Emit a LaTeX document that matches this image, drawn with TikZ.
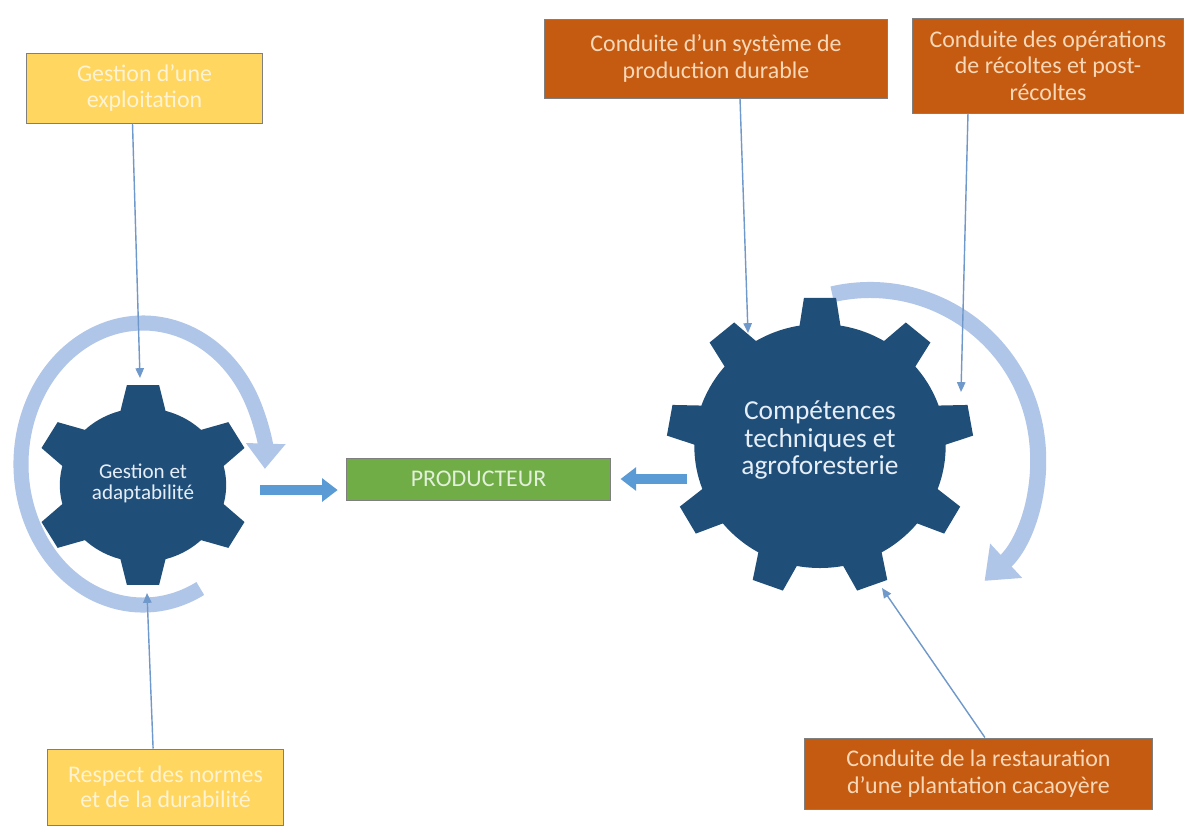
\documentclass[tikz,border=0pt]{standalone}
\usepackage{fontspec}
\setmainfont{Carlito}
\usetikzlibrary{arrows.meta}

\definecolor{gearblue}{HTML}{1F4E79}
\definecolor{gearlabel}{HTML}{E6EEF8}
\definecolor{ringblue}{HTML}{B0C6E8}
\definecolor{fatblue}{HTML}{5B9BD5}
\definecolor{linkblue}{HTML}{6F98CB}
\definecolor{boxyellow}{HTML}{FFD65F}
\definecolor{yellowtext}{HTML}{FFF3D2}
\definecolor{boxorange}{HTML}{C55A11}
\definecolor{orangetext}{HTML}{F9D8B8}
\definecolor{boxgreen}{HTML}{70AD47}
\definecolor{greentext}{HTML}{E2F0D9}
\definecolor{boxborder}{HTML}{7F7F7F}

\begin{document}
\begin{tikzpicture}[
        x=0.025cm, y=-0.025cm,
        box/.style={
            rectangle,
            draw=boxborder,
            line width=0.7pt,
            inner sep=0pt,
            align=center
        },
        yellowbox/.style={box, fill=boxyellow, text=yellowtext, font=\fontsize{17}{18}\selectfont},
        orangebox/.style={box, fill=boxorange, text=orangetext, font=\fontsize{17}{19}\selectfont},
        greenbox/.style={box, fill=boxgreen, text=greentext, font=\fontsize{17}{18}\selectfont},
        geartext/.style={text=gearlabel, align=center},
        ring/.style={draw=ringblue, line width=10.7pt},
        fat/.style={draw=fatblue, line width=7pt, -{Triangle[width=16pt,length=11pt]}},
        link/.style={draw=linkblue, line width=1pt, -{Triangle[width=6pt,length=7pt]}}
    ]

    \useasboundingbox[fill=white] (0,0) rectangle (1186,825);

    % Rotation arrows
    \begin{scope}[shift={(143,464)}]
        \draw[ring, -{Triangle[width=27pt,length=18pt]}] (62:122 and 141) arc[start angle=62, end angle=362, x radius=122, y radius=141];
    \end{scope}
    \begin{scope}[shift={(870,458)}]
        \draw[ring, line width=11.4pt, -{Triangle[width=32pt,length=21pt]}] (-103:168) arc[start angle=-103, end angle=47, radius=168];
    \end{scope}

    % Gears
    \begin{scope}[shift={(143,485)}, xscale=1.08]
        \fill[gearblue] (0,0) circle[radius=77];
        \foreach \a in {30,90,...,330}
            \fill[gearblue] (\a-17:74) -- (\a-8.5:101) -- (\a+8.5:101) -- (\a+17:74) -- cycle;
    \end{scope}
    \begin{scope}[shift={(820,446)}, xscale=1.03]
        \fill[gearblue] (0,0) circle[radius=122];
        \foreach \a in {30,70,...,350}
            \fill[gearblue] (\a-10:118) -- (\a-6:149) -- (\a+6:149) -- (\a+10:118) -- cycle;
    \end{scope}

    % Nodes
    \node (gestion) [geartext, font=\fontsize{15}{15}\selectfont] at (143,483) {Gestion et\\adaptabilité};

    \node (compet) [geartext, font=\fontsize{19.5}{19.5}\selectfont] at (820,440) {Compétences\\techniques et\\agroforesterie};

    \node (prod) [greenbox, minimum width=6.575cm, minimum height=1.05cm] at (478.5,479) {PRODUCTEUR};

    \node (exploit) [yellowbox, minimum width=5.875cm, minimum height=1.75cm] at (144.5,88) {Gestion d’une\\exploitation};

    \node (respect) [yellowbox, minimum width=5.875cm, minimum height=1.9cm] at (165.5,787) {Respect des normes\\et de la durabilité};

    \node (durable) [orangebox, minimum width=8.55cm, minimum height=1.975cm] at (716,58.5) {Conduite d’un système de\\production durable};

    \node (recolte) [orangebox, minimum width=6.75cm, minimum height=2.375cm] at (1048,65.5) {Conduite des opérations\\de récoltes et post-\\récoltes};

    \node (restau) [orangebox, minimum width=8.675cm, minimum height=1.775cm] at (978.5,773.5) {Conduite de la restauration\\d’une plantation cacaoyère};

    \coordinate (gestionN) at (140,378);
    \coordinate (gestionS) at (147,593);
    \coordinate (gestionR) at (260,490);
    \coordinate (competNW) at (748,333);
    \coordinate (competNE) at (961,392);
    \coordinate (competS) at (882,588);
    \coordinate (competL) at (687,479);

    % Arrows
    \draw[fat, shorten >=0.22cm] (gestionR) -- (gestionR -| prod.west);
    \draw[fat, shorten >=0.25cm] (competL) -- (prod.east);

    \draw[link] ([xshift=-0.3cm]exploit.south) -- (gestionN);
    \draw[link] ([xshift=-0.31cm]respect.north) -- (gestionS);
    \draw[link] ([xshift=0.6cm]durable.south) -- (competNW);
    \draw[link] ([xshift=-2cm]recolte.south) -- (competNE);
    \draw[link] ([xshift=0.16cm]restau.north) -- (competS);

\end{tikzpicture}
\end{document}
